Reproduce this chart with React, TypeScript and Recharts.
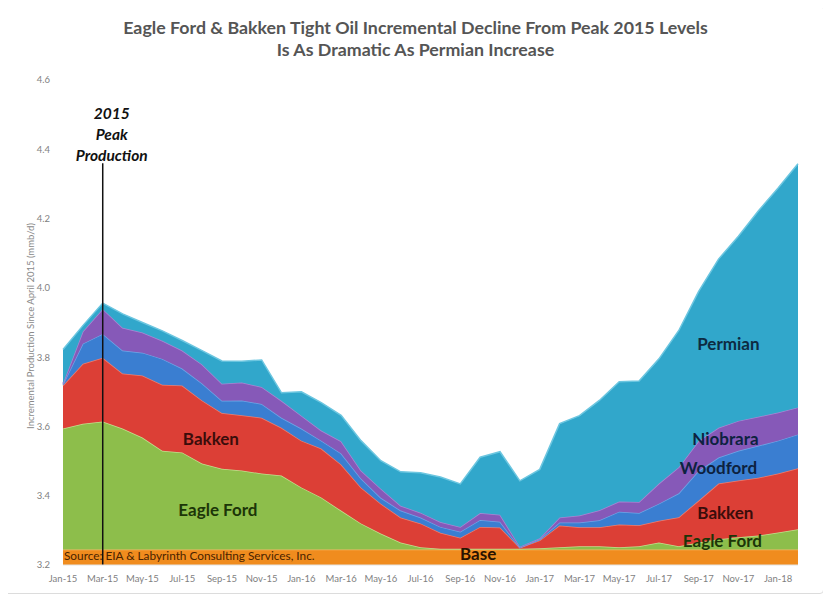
import React from 'react';
import { AreaChart, Area, XAxis, YAxis, ReferenceLine, ReferenceDot } from 'recharts';

const months = [
  'Jan-15', 'Feb-15', 'Mar-15', 'Apr-15', 'May-15', 'Jun-15', 'Jul-15', 'Aug-15', 'Sep-15', 'Oct-15', 'Nov-15', 'Dec-15',
  'Jan-16', 'Feb-16', 'Mar-16', 'Apr-16', 'May-16', 'Jun-16', 'Jul-16', 'Aug-16', 'Sep-16', 'Oct-16', 'Nov-16', 'Dec-16',
  'Jan-17', 'Feb-17', 'Mar-17', 'Apr-17', 'May-17', 'Jun-17', 'Jul-17', 'Aug-17', 'Sep-17', 'Oct-17', 'Nov-17', 'Dec-17',
  'Jan-18', 'Feb-18',
];

// mmb/d, stacked bottom to top
const base = [
  3.245, 3.245, 3.245, 3.245, 3.245, 3.245, 3.245, 3.245, 3.245, 3.245, 3.245, 3.245,
  3.245, 3.245, 3.245, 3.245, 3.245, 3.245, 3.245, 3.245, 3.245, 3.245, 3.245, 3.245,
  3.245, 3.245, 3.245, 3.245, 3.245, 3.245, 3.245, 3.245, 3.245, 3.245, 3.245, 3.245,
  3.245, 3.245,
];
const eagleFord = [
  0.349, 0.363, 0.369, 0.349, 0.323, 0.285, 0.280, 0.248, 0.233, 0.228, 0.219, 0.213,
  0.179, 0.150, 0.112, 0.075, 0.046, 0.020, 0.006, 0.002, 0.002, 0.002, 0.002, 0.002,
  0.003, 0.006, 0.009, 0.009, 0.006, 0.009, 0.020, 0.009, 0.020, 0.029, 0.035, 0.040,
  0.049, 0.058,
];
const bakken = [
  0.124, 0.173, 0.184, 0.159, 0.179, 0.190, 0.193, 0.182, 0.161, 0.159, 0.161, 0.138,
  0.135, 0.141, 0.133, 0.104, 0.086, 0.072, 0.069, 0.046, 0.032, 0.063, 0.061, 0.003,
  0.023, 0.063, 0.055, 0.055, 0.066, 0.061, 0.063, 0.084, 0.121, 0.161, 0.164, 0.167,
  0.170, 0.176,
];
const woodford = [
  0.003, 0.058, 0.069, 0.066, 0.066, 0.075, 0.049, 0.049, 0.035, 0.043, 0.040, 0.029,
  0.035, 0.023, 0.032, 0.026, 0.017, 0.020, 0.017, 0.017, 0.017, 0.020, 0.017, 0.000,
  0.003, 0.009, 0.014, 0.020, 0.037, 0.035, 0.049, 0.069, 0.086, 0.075, 0.086, 0.092,
  0.095, 0.098,
];
const niobrara = [
  0.003, 0.035, 0.072, 0.066, 0.058, 0.052, 0.052, 0.055, 0.049, 0.052, 0.049, 0.049,
  0.037, 0.029, 0.035, 0.023, 0.026, 0.014, 0.014, 0.014, 0.014, 0.020, 0.020, 0.003,
  0.003, 0.014, 0.020, 0.029, 0.029, 0.032, 0.058, 0.075, 0.086, 0.086, 0.086, 0.084,
  0.081, 0.078,
];
const permian = [
  0.098, 0.017, 0.017, 0.040, 0.029, 0.029, 0.029, 0.040, 0.066, 0.061, 0.078, 0.023,
  0.069, 0.081, 0.075, 0.086, 0.081, 0.098, 0.115, 0.130, 0.124, 0.161, 0.182, 0.190,
  0.199, 0.271, 0.288, 0.317, 0.346, 0.349, 0.360, 0.395, 0.432, 0.487, 0.533, 0.594,
  0.648, 0.703,
];

const yTicks = [3.2, 3.4, 3.6, 3.8, 4.0, 4.2, 4.4, 4.6];

const data = months.map((m, i) => ({
  month: m,
  base: base[i],
  eagleFord: eagleFord[i],
  bakken: bakken[i],
  woodford: woodford[i],
  niobrara: niobrara[i],
  permian: permian[i],
}));

const FONT = 'Lato, "Open Sans", sans-serif';

type TagOpts = { dx?: number; anchor?: 'start' | 'middle' | 'end'; italic?: boolean; weight?: number; lh?: number };

function tag(lines: string[], color: string, size: number, opts: TagOpts = {}) {
  return (props: any) => {
    const vb = props.viewBox || {};
    const x = (vb.x ?? 0) + (vb.width ?? 0) / 2 + (opts.dx ?? 0);
    const y = (vb.y ?? 0) + (vb.height ?? 0) / 2;
    return (
      <text
        x={x}
        y={y}
        textAnchor={opts.anchor ?? 'middle'}
        dominantBaseline="central"
        fill={color}
        fontSize={size}
        fontWeight={opts.weight ?? 700}
        fontStyle={opts.italic ? 'italic' : 'normal'}
        fontFamily={FONT}
      >
        {lines.map((l, i) => (
          <tspan key={i} x={x} dy={i === 0 ? 0 : opts.lh ?? size * 1.3}>
            {l}
          </tspan>
        ))}
      </text>
    );
  };
}

const labels = [
  { x: 'Sep-15', y: 3.568, text: ['Bakken'], color: '#3b0d0b', size: 17, opts: { dx: -11 } },
  { x: 'Sep-15', y: 3.361, text: ['Eagle Ford'], color: '#1c3508', size: 17, opts: { dx: -4 } },
  { x: 'Nov-17', y: 3.84, text: ['Permian'], color: '#0d2b42', size: 17, opts: { dx: -10 } },
  { x: 'Nov-17', y: 3.566, text: ['Niobrara'], color: '#0d2240', size: 17, opts: { dx: -13 } },
  { x: 'Nov-17', y: 3.482, text: ['Woodford'], color: '#0d2240', size: 17, opts: { dx: -20 } },
  { x: 'Nov-17', y: 3.353, text: ['Bakken'], color: '#3b0d0b', size: 17, opts: { dx: -13 } },
  { x: 'Nov-17', y: 3.272, text: ['Eagle Ford'], color: '#1c3508', size: 17, opts: { dx: -16 } },
  { x: 'Oct-16', y: 3.236, text: ['Base'], color: '#2a1200', size: 17, opts: { dx: -2 } },
  {
    x: 'Jan-15', y: 3.229, text: ['Source: EIA & Labyrinth Consulting Services, Inc.'], color: '#4a2300', size: 11.8,
    opts: { dx: 1, anchor: 'start' as const, weight: 400 },
  },
  {
    x: 'Mar-15', y: 4.505, text: ['2015', 'Peak', 'Production'], color: '#111111', size: 15.5,
    opts: { dx: 9, italic: true, lh: 21 },
  },
];

const series = [
  { key: 'base', fill: '#F08C1E', stroke: '#F7B766' },
  { key: 'eagleFord', fill: '#8DBE4B', stroke: '#C5DE8E' },
  { key: 'bakken', fill: '#DC3F36', stroke: '#EE7D6E' },
  { key: 'woodford', fill: '#3A7ED1', stroke: '#6FA5E6' },
  { key: 'niobrara', fill: '#8659B8', stroke: '#A985D3' },
  { key: 'permian', fill: '#31A7CB', stroke: '#6CC6E0' },
];

export default function App() {
  return (
    <div style={{ position: 'relative', width: 831, height: 603, margin: '-8px 0 0 -8px', background: '#fff', fontFamily: FONT }}>
      <div
        style={{
          position: 'absolute', left: 3, top: 5, width: 821, height: 589,
          border: '1px solid #dcdcdc', borderRadius: 4, boxSizing: 'border-box',
        }}
      />
      <div
        style={{
          position: 'absolute', left: 0, top: 16, width: 831, textAlign: 'center',
          fontSize: 17.8, fontWeight: 700, color: '#555', lineHeight: '22px',
        }}
      >
        <div>Eagle Ford &amp; Bakken Tight Oil Incremental Decline From Peak 2015 Levels</div>
        <div>Is As Dramatic As Permian Increase</div>
      </div>
      <div
        style={{
          position: 'absolute', left: 30, top: 326, transform: 'translate(-50%, -50%) rotate(-90deg)',
          whiteSpace: 'nowrap', fontSize: 9.5, color: '#8a8a8a',
        }}
      >
        Incremental Production Since April 2015 (mmb/d)
      </div>
      <div style={{ position: 'absolute', left: 0, top: 0 }}>
        <AreaChart width={831} height={603} data={data} margin={{ top: 80, right: 33, left: 0, bottom: 8 }}>
          <XAxis
            dataKey="month"
            interval={1}
            height={30}
            tickLine={false}
            axisLine={{ stroke: '#e3e3e3' }}
            tick={{ fontSize: 9.5, fill: '#7f7f7f', fontFamily: FONT }}
            tickMargin={4}
          />
          <YAxis
            width={63}
            domain={[3.2, 4.6]}
            ticks={yTicks}
            allowDataOverflow
            tickFormatter={(v: number) => v.toFixed(1)}
            axisLine={false}
            tickLine={false}
            tickMargin={7}
            tick={{ fontSize: 9.5, fill: '#7f7f7f', fontFamily: FONT }}
          />
          {series.map((s) => (
            <Area
              key={s.key}
              type="linear"
              dataKey={s.key}
              stackId="a"
              fill={s.fill}
              fillOpacity={1}
              stroke={s.stroke}
              strokeWidth={1.5}
              dot={false}
              activeDot={false}
              isAnimationActive={false}
            />
          ))}
          <ReferenceLine
            segment={[{ x: 'Mar-15', y: 3.2 }, { x: 'Mar-15', y: 4.36 }]}
            stroke="#111"
            strokeWidth={1.5}
          />
          {labels.map((l, i) => (
            <ReferenceDot
              key={i}
              x={l.x}
              y={l.y}
              r={0}
              fill="none"
              stroke="none"
              label={tag(l.text, l.color, l.size, l.opts)}
            />
          ))}
        </AreaChart>
      </div>
    </div>
  );
}
